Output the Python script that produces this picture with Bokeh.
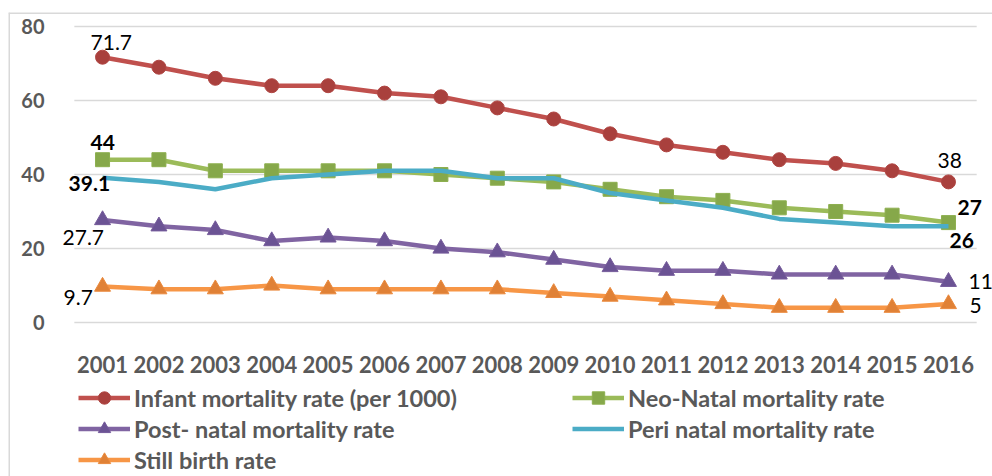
from bokeh.plotting import figure
from bokeh.models import (ColumnDataSource, Range1d, Legend, LegendItem, FixedTicker, LabelSet, Span)
from bokeh.core.properties import value
from bokeh.embed import file_html
from bokeh.resources import INLINE

years = [2001, 2002, 2003, 2004, 2005, 2006, 2007, 2008,
         2009, 2010, 2011, 2012, 2013, 2014, 2015, 2016]
infant = [71.7, 69, 66, 64, 64, 62, 61, 58, 55, 51, 48, 46, 44, 43, 41, 38]
neo_natal = [44, 44, 41, 41, 41, 41, 40, 39, 38, 36, 34, 33, 31, 30, 29, 27]
post_natal = [27.7, 26, 25, 22, 23, 22, 20, 19, 17, 15, 14, 14, 13, 13, 13, 11]
peri_natal = [39.1, 38, 36, 39, 40, 41, 41, 39, 39, 35, 33, 31, 28, 27, 26, 26]
still_birth = [9.7, 9, 9, 10, 9, 9, 9, 9, 8, 7, 6, 5, 4, 4, 4, 5]
y_ticks = [0, 20, 40, 60, 80]

names = ["Infant mortality rate (per 1000)", "Neo-Natal mortality rate",
         "Post- natal mortality rate", "Peri natal mortality rate", "Still birth rate"]

FONT = "Lato"
GRAY = "#595959"
GRID = "#D9D9D9"

# frame covers the whole chart box; axes are pinned inside it
x_range = Range1d(1999.3326, 2016.7805)
y_range = Range1d(-41.622, 83.784)
p = figure(width=992, height=476, x_range=x_range, y_range=y_range,
           output_backend="svg", toolbar_location=None,
           min_border_left=8, min_border_right=0, min_border_top=12, min_border_bottom=0)
p.outline_line_color = None
p.xgrid.grid_line_color = None
p.ygrid.grid_line_color = None
p.background_fill_color = "white"

# chart box border (left and top edges of the chart area)
p.add_layout(Span(location=x_range.start, dimension="height", line_color=GRID, line_width=3))
p.add_layout(Span(location=y_range.end, dimension="width", line_color=GRID, line_width=3))

p.xaxis.ticker = FixedTicker(ticks=years)
p.yaxis.ticker = FixedTicker(ticks=y_ticks)
p.xaxis.fixed_location = y_ticks[0]
p.yaxis.fixed_location = years[0]
for ax in (p.xaxis, p.yaxis):
    ax.axis_line_color = None
    ax.major_tick_line_color = None
    ax.minor_tick_line_color = None
    ax.major_label_text_font = FONT
    ax.major_label_text_font_style = "bold"
    ax.major_label_text_color = GRAY
p.yaxis.major_label_text_font_size = "20px"
p.yaxis.major_label_standoff = 52
p.xaxis.major_label_text_font_size = "22px"
p.xaxis.major_label_standoff = 28

# horizontal gridlines spanning the category band only
p.segment(x0=[years[0] - 0.5] * len(y_ticks), x1=[years[-1] + 0.5] * len(y_ticks),
          y0=y_ticks, y1=y_ticks, line_color=GRID, line_width=1.5)

src = ColumnDataSource(dict(year=years, infant=infant, neo=neo_natal, post=post_natal,
                            peri=peri_natal, still=still_birth))

LW = 4.5
r_inf_l = p.line("year", "infant", source=src, line_color="#C0504D", line_width=LW)
r_inf_m = p.scatter("year", "infant", source=src, marker="circle", size=14,
                    fill_color="#A9403D", line_color="#B04643", line_width=1)
r_neo_l = p.line("year", "neo", source=src, line_color="#9BBB59", line_width=LW)
r_neo_m = p.scatter("year", "neo", source=src, marker="square", size=14,
                    fill_color="#86A84A", line_color="#8DAF4F", line_width=1)
r_post_l = p.line("year", "post", source=src, line_color="#8064A2", line_width=LW)
r_post_m = p.scatter("year", "post", source=src, marker="triangle", size=16,
                     fill_color="#6B5394", line_color="#745A9A", line_width=1)
r_peri_l = p.line("year", "peri", source=src, line_color="#4BACC6", line_width=LW)
r_still_l = p.line("year", "still", source=src, line_color="#F79646", line_width=LW)
r_still_m = p.scatter("year", "still", source=src, marker="triangle", size=16,
                      fill_color="#E08136", line_color="#EA8A3E", line_width=1)

# data labels: (series, index, bold?) with pixel offsets of text centre (style; +y = up)
label_defs = [
    (infant, 0, False, -12, 15),
    (post_natal, 0, False, -40, -17),
    (still_birth, 0, False, -39, -11),
    (infant, 15, False, -11, 21),
    (post_natal, 15, False, 20, 0),
    (still_birth, 15, False, 21, -2),
    (neo_natal, 0, True, -12, 17),
    (peri_natal, 0, True, -34, -6),
    (neo_natal, 15, True, 9, 15),
    (peri_natal, 15, True, 1, -14),
]

def fmt(v):
    return ("%g" % v)

for bold in (False, True):
    d = dict(x=[], y=[], t=[], xo=[], yo=[])
    for series, i, b, xo, yo in label_defs:
        if b != bold:
            continue
        d["x"].append(years[i]); d["y"].append(series[i]); d["t"].append(fmt(series[i]))
        d["xo"].append(xo); d["yo"].append(yo)
    ls = LabelSet(x="x", y="y", text="t", source=ColumnDataSource(d), x_offset="xo", y_offset="yo",
                  text_font=value(FONT), text_font_size="21px",
                  text_font_style="bold" if bold else "normal", text_color="#000000",
                  text_align="left", text_baseline="middle")
    p.add_layout(ls)

items = [
    LegendItem(label=names[0], renderers=[r_inf_l, r_inf_m]),
    LegendItem(label=names[1], renderers=[r_neo_l, r_neo_m]),
    LegendItem(label=names[2], renderers=[r_post_l, r_post_m]),
    LegendItem(label=names[3], renderers=[r_peri_l]),
    LegendItem(label=names[4], renderers=[r_still_l, r_still_m]),
]
legend = Legend(items=items, orientation="horizontal", ncols=2, location=(70, 1),
                label_text_font=FONT, label_text_font_style="bold", label_text_font_size="23.5px",
                label_text_color=GRAY, glyph_width=52, glyph_height=31, label_standoff=4,
                label_height=31, label_width=438, spacing=0, padding=0, margin=0,
                border_line_color=None, background_fill_alpha=0)
p.add_layout(legend)

open("out.html", "w").write(file_html(p, INLINE))
